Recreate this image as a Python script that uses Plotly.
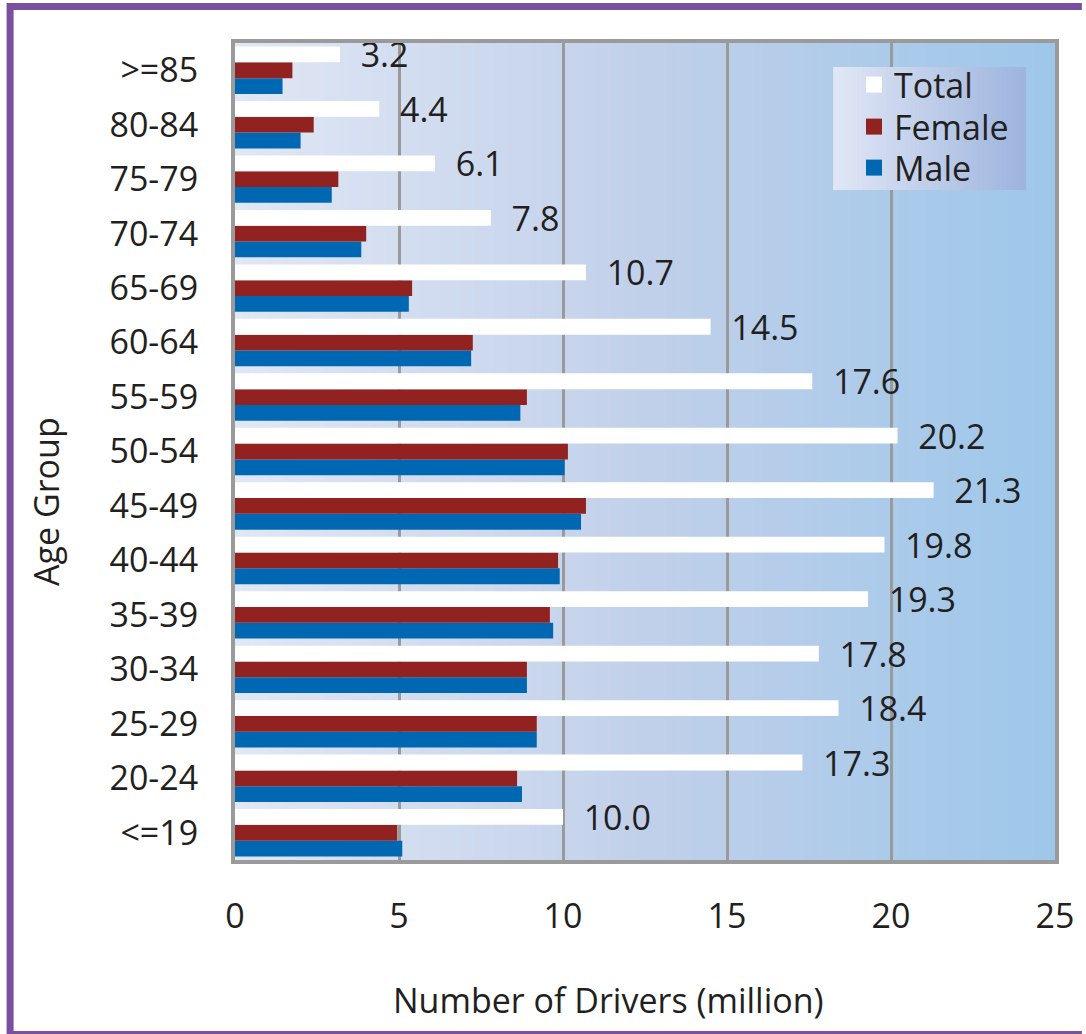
import plotly.graph_objects as go

# ---- data ----
age_groups = ["<=19", "20-24", "25-29", "30-34", "35-39", "40-44", "45-49",
              "50-54", "55-59", "60-64", "65-69", "70-74", "75-79", "80-84", ">=85"]
total = [10.0, 17.3, 18.4, 17.8, 19.3, 19.8, 21.3, 20.2, 17.6, 14.5, 10.7, 7.8, 6.1, 4.4, 3.2]
female = [4.95, 8.6, 9.2, 8.9, 9.6, 9.85, 10.7, 10.15, 8.9, 7.25, 5.4, 4.0, 3.15, 2.4, 1.75]
male = [5.1, 8.75, 9.2, 8.9, 9.7, 9.9, 10.55, 10.05, 8.7, 7.2, 5.3, 3.85, 2.95, 2.0, 1.45]
x_ticks = [0, 5, 10, 15, 20, 25]
x_title = "Number of Drivers (million)"
y_title = "Age Group"

# ---- styling ----
W, H = 1086, 1034
L, R, T, B = 235, 1059, 43, 860          # plot area in pixels
FONT = "Open Sans"
TXT = "#231f20"
FEMALE_C = "#922220"
MALE_C = "#0068b3"
FS = 34

def px2paper_x(px):
    return (px - L) / (R - L)

def px2paper_y(py):
    return (B - py) / (B - T)

def lerp_col(stops, t):
    for i in range(len(stops) - 1):
        t0, c0 = stops[i]
        t1, c1 = stops[i + 1]
        if t0 <= t <= t1:
            f = (t - t0) / (t1 - t0)
            c = [round(c0[k] + (c1[k] - c0[k]) * f) for k in range(3)]
            return "rgb(%d,%d,%d)" % tuple(c)
    c = stops[-1][1]
    return "rgb(%d,%d,%d)" % tuple(c)

fig = go.Figure()

fig.add_trace(go.Bar(y=age_groups, x=male, name="Male", orientation="h",
                     marker=dict(color=MALE_C, line=dict(width=0)), showlegend=False))
fig.add_trace(go.Bar(y=age_groups, x=female, name="Female", orientation="h",
                     marker=dict(color=FEMALE_C, line=dict(width=0)), showlegend=False))
fig.add_trace(go.Bar(y=age_groups, x=total, name="Total", orientation="h",
                     marker=dict(color="white", line=dict(width=0)), showlegend=False,
                     texttemplate="\u00a0\u00a0%{x:.1f}", textposition="outside",
                     constraintext="none",
                     textfont=dict(family=FONT, size=FS, color=TXT), cliponaxis=False))

# legend entries: one legend per entry so spacing can match
leg_items = [("Total", "white", "legend", 85), ("Female", FEMALE_C, "legend2", 127),
             ("Male", MALE_C, "legend3", 168)]
for name, col, lg, _ in leg_items:
    fig.add_trace(go.Scatter(x=[None], y=[None], mode="markers", name=name, legend=lg,
                             marker=dict(symbol="square", size=16, color=col,
                                         line=dict(width=0))))

shapes = []
# plot background gradient
plot_stops = [(0.0, (224, 231, 245)), (0.5, (193, 208, 234)), (1.0, (157, 199, 234))]
N = 120
for i in range(N):
    x0 = 25 * i / N
    x1 = 25 * (i + 1) / N + 0.02
    shapes.append(dict(type="rect", xref="x", yref="paper", x0=x0, x1=min(x1, 25),
                       y0=0, y1=1, fillcolor=lerp_col(plot_stops, (i + 0.5) / N),
                       line=dict(width=0), layer="below"))

# legend background gradient
lx0, lx1, ly0, ly1 = 836, 1030, 67, 190
leg_stops = [(0.0, (225, 231, 245)), (1.0, (157, 180, 222))]
M = 40
for i in range(M):
    a = lx0 + (lx1 - lx0) * i / M
    b = lx0 + (lx1 - lx0) * (i + 1) / M + 0.6
    shapes.append(dict(type="rect", xref="paper", yref="paper",
                       x0=px2paper_x(a), x1=px2paper_x(min(b, lx1)),
                       y0=px2paper_y(ly1), y1=px2paper_y(ly0),
                       fillcolor=lerp_col(leg_stops, (i + 0.5) / M),
                       line=dict(width=0), layer="above"))

# purple outer frame (left, top, bottom edges visible)
FR = "#7a4fa0"
shapes.append(dict(type="line", xref="paper", yref="paper",
                   x0=px2paper_x(9), x1=px2paper_x(9),
                   y0=px2paper_y(1034), y1=px2paper_y(3),
                   line=dict(color=FR, width=7), layer="below"))
shapes.append(dict(type="line", xref="paper", yref="paper",
                   x0=px2paper_x(6), x1=px2paper_x(1086),
                   y0=px2paper_y(6.5), y1=px2paper_y(6.5),
                   line=dict(color=FR, width=7), layer="below"))
shapes.append(dict(type="line", xref="paper", yref="paper",
                   x0=px2paper_x(6), x1=px2paper_x(1086),
                   y0=px2paper_y(1033), y1=px2paper_y(1033),
                   line=dict(color=FR, width=4), layer="below"))

legend_common = dict(xanchor="left", yanchor="middle", bgcolor="rgba(0,0,0,0)",
                     borderwidth=0, font=dict(family=FONT, size=FS, color=TXT),
                     itemwidth=30)
legends = {}
for name, col, lg, yc in leg_items:
    legends[lg] = dict(x=px2paper_x(lx0 + 21), y=px2paper_y(yc), **legend_common)

annotations = [
    dict(text=x_title, xref="paper", yref="paper", x=px2paper_x(610), y=px2paper_y(1000),
         xanchor="center", yanchor="middle", showarrow=False,
         font=dict(family=FONT, size=FS, color=TXT)),
    dict(text=y_title, xref="paper", yref="paper", x=px2paper_x(45), y=px2paper_y(501),
         xanchor="center", yanchor="middle", showarrow=False, textangle=-90,
         font=dict(family=FONT, size=FS, color=TXT)),
]

fig.update_layout(
    width=W, height=H,
    margin=dict(l=L, r=W - R, t=T, b=H - B, pad=0),
    paper_bgcolor="white",
    plot_bgcolor="#dfe6f5",
    barmode="group", bargap=0.13, bargroupgap=0,
    font=dict(family=FONT, size=FS, color=TXT),
    shapes=shapes,
    annotations=annotations,
    showlegend=True,
    xaxis=dict(range=[0, 25], tickvals=x_ticks, showgrid=True, gridcolor="#9a9a9a",
               gridwidth=3, zeroline=False, showline=True, linecolor="#9a9a9a",
               linewidth=4, mirror=True, ticks="outside", ticklen=23,
               tickcolor="rgba(0,0,0,0)",
               tickfont=dict(family=FONT, size=FS, color=TXT), fixedrange=True),
    yaxis=dict(categoryorder="array", categoryarray=age_groups, showgrid=False,
               zeroline=False, showline=True, linecolor="#9a9a9a", linewidth=4,
               mirror=True, ticks="outside", ticklen=26, tickcolor="rgba(0,0,0,0)",
               tickfont=dict(family=FONT, size=FS, color=TXT), fixedrange=True),
    **legends,
)

fig.write_html("out.html", config={"displayModeBar": False},
               post_script="document.body.style.margin='0px';")
